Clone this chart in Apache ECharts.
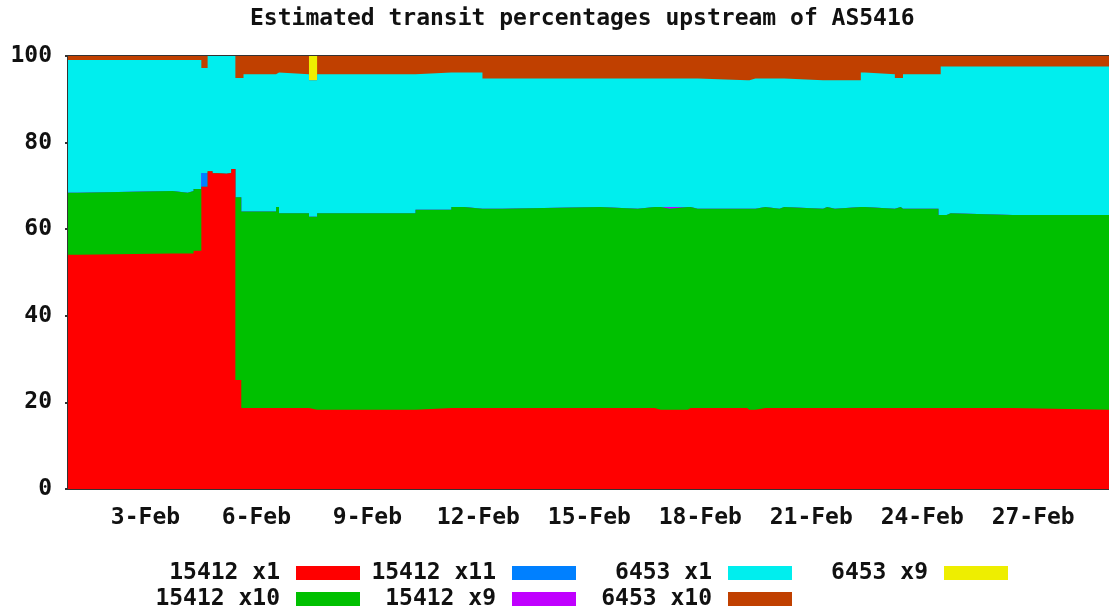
<!DOCTYPE html>
<html>
<head>
<meta charset="utf-8">
<title>Estimated transit percentages upstream of AS5416</title>
<script src="https://cdn.jsdelivr.net/npm/echarts@6/dist/echarts.min.js"></script>
<style>
    html, body { margin: 0; padding: 0; background: #fff; }
    #chart { width: 1109px; height: 613px; }
</style>
</head>
<body>
<div id="chart"></div>
<script>
// x = day of February (fractional), one column per sample change
var days = [0.905, 1.17, 3.73, 4.14, 4.30, 4.51, 4.68, 4.81, 4.95, 5.19, 5.32, 5.43, 5.59, 5.65, 6.53, 6.61,
    7.42, 7.64, 10.30, 11.27, 11.62, 12.11, 12.65, 15.29, 16.31, 16.77, 16.93, 17.17, 17.66, 17.74, 17.93,
    19.27, 19.33, 19.49, 19.76, 20.14, 20.27, 21.32, 21.43, 21.64, 22.34, 22.45, 23.26, 23.31, 23.42, 23.48,
    24.44, 24.50, 24.66, 24.77, 26.44, 29.05];
var dayLabels = [3, 6, 9, 12, 15, 18, 21, 24, 27];

// percentages per series (stack order bottom -> top)
var as15412x1 = [54.1, 54.4, 54.4, 54.4, 55.0, 69.8, 73.4, 72.9, 72.8, 73.0, 73.9, 25.2, 18.7, 18.7, 18.7, 18.7,
    18.3, 18.3, 18.7, 18.7, 18.7, 18.7, 18.7, 18.7, 18.7, 18.3, 18.3, 18.3, 18.7, 18.7, 18.7,
    18.3, 18.3, 18.7, 18.7, 18.7, 18.7, 18.7, 18.7, 18.7, 18.7, 18.7, 18.7, 18.7, 18.7, 18.7,
    18.7, 18.7, 18.7, 18.7, 18.3, 18.3];
var as15412x10 = [14.3, 14.4, 14.0, 14.4, 14.3, 0, 0, 0, 0, 0, 0, 42.2, 45.4, 45.4, 46.4, 45.0,
    44.6, 45.4, 45.8, 46.4, 46.0, 46.0, 46.4, 46.0, 46.4, 46.8, 46.4, 46.8, 46.4, 46.0, 46.0,
    46.4, 46.4, 46.4, 46.0, 46.4, 46.0, 46.4, 46.0, 46.4, 46.4, 46.0, 46.0, 46.4, 46.0, 46.0,
    44.6, 44.6, 45.0, 44.6, 45.0, 45.0];
var as15412x11 = [0, 0, 0, 0, 0, 3.2, 0, 0, 0, 0, 0, 0, 0, 0, 0, 0,
    0, 0, 0, 0, 0, 0, 0, 0, 0, 0, 0, 0, 0, 0, 0,
    0, 0, 0, 0, 0, 0, 0, 0, 0, 0, 0, 0, 0, 0, 0,
    0, 0, 0, 0, 0, 0];
var as15412x9 = [0, 0, 0, 0, 0, 0, 0, 0, 0, 0, 0, 0, 0, 0, 0, 0,
    0, 0, 0, 0, 0, 0, 0, 0, 0, 0, 0.4, 0, 0, 0, 0,
    0, 0, 0, 0, 0, 0, 0, 0, 0, 0, 0, 0, 0, 0, 0,
    0, 0, 0, 0, 0, 0];
var as6453x1 = [30.7, 30.3, 30.7, 30.3, 29.8, 24.2, 26.6, 27.1, 27.2, 27.0, 26.1, 27.5, 30.8, 31.7, 31.1, 32.1,
    31.5, 32.1, 31.7, 31.1, 31.5, 30.1, 29.7, 30.1, 29.7, 29.7, 29.7, 29.7, 29.7, 30.1, 29.7,
    29.7, 30.1, 29.7, 30.1, 29.7, 29.7, 29.3, 29.7, 29.3, 31.1, 31.1, 30.2, 29.8, 30.2, 31.1,
    32.5, 34.3, 33.9, 34.3, 34.3, 34.3];
var as6453x10 = [0.9, 0.9, 0.9, 0.9, 0.9, 2.8, 0, 0, 0, 0, 0, 5.1, 5.1, 4.2, 3.8, 4.2,
    0, 4.2, 3.8, 3.8, 3.8, 5.2, 5.2, 5.2, 5.2, 5.2, 5.2, 5.2, 5.2, 5.2, 5.6,
    5.6, 5.2, 5.2, 5.2, 5.2, 5.6, 5.6, 5.6, 5.6, 3.8, 4.2, 5.1, 5.1, 5.1, 4.2,
    4.2, 2.4, 2.4, 2.4, 2.4, 2.4];
var as6453x9 = [0, 0, 0, 0, 0, 0, 0, 0, 0, 0, 0, 0, 0, 0, 0, 0,
    5.6, 0, 0, 0, 0, 0, 0, 0, 0, 0, 0, 0, 0, 0, 0,
    0, 0, 0, 0, 0, 0, 0, 0, 0, 0, 0, 0, 0, 0, 0,
    0, 0, 0, 0, 0, 0];

var FONT = 'DejaVu Sans Mono';

// stack order bottom -> top
var layers = [
    {name: '15412 x1', values: as15412x1, color: '#ff0000'},
    {name: '15412 x10', values: as15412x10, color: '#00c000'},
    {name: '15412 x11', values: as15412x11, color: '#0080ff'},
    {name: '15412 x9', values: as15412x9, color: '#c000ff'},
    {name: '6453 x1', values: as6453x1, color: '#00eeee'},
    {name: '6453 x10', values: as6453x10, color: '#c04000'},
    {name: '6453 x9', values: as6453x9, color: '#eeee00'}
];

// legend slots: gnuplot style, text then colour box; right = distance of box right edge from canvas right
var legendSlots = {
    '15412 x1': {right: 749, top: 560},
    '15412 x11': {right: 533, top: 560},
    '6453 x1': {right: 317, top: 560},
    '6453 x9': {right: 101, top: 560},
    '15412 x10': {right: 749, top: 586},
    '15412 x9': {right: 533, top: 586},
    '6453 x10': {right: 317, top: 586}
};

// running totals, each layer drawn from 0 up to its cumulative top
var running = days.map(function () { return 0; });
var series = [];
var legends = [];
layers.forEach(function (l, k) {
    var d = [];
    for (var i = 0; i < days.length; i++) {
        running[i] += l.values[i];
        d.push([days[i], Math.min(100, +running[i].toFixed(2))]);
    }
    series.push({
        name: l.name,
        type: 'line',
        step: 'end',
        symbol: 'none',
        z: 10 - k, // lower layers on top
        color: l.color,
        lineStyle: {width: 0},
        areaStyle: {color: l.color, opacity: 1, origin: 'start'},
        data: d
    });
    var s = legendSlots[l.name];
    legends.push({
        data: [l.name],
        right: s.right,
        top: s.top,
        padding: 0,
        align: 'right',
        icon: 'rect',
        itemWidth: 64,
        itemHeight: 14,
        selectedMode: false,
        textStyle: {fontFamily: FONT, fontWeight: 'bold', fontSize: 23, color: '#111', lineHeight: 22, padding: [4, 11, 0, 0]}
    });
});

var myChart = echarts.init(document.getElementById('chart'));
myChart.setOption({
    backgroundColor: '#fff',
    animation: false,
    title: {
        text: 'Estimated transit percentages upstream of AS5416',
        left: 250,
        top: 8,
        padding: 0,
        textStyle: {fontFamily: FONT, fontWeight: 'bold', fontSize: 23, color: '#111'}
    },
    legend: legends,
    grid: {
        left: 68,
        top: 56,
        right: -4,
        bottom: 124,
        show: true,
        borderColor: '#333',
        borderWidth: 2,
        backgroundColor: 'transparent'
    },
    xAxis: {
        type: 'value',
        min: 0.905,
        max: 29.05,
        axisLine: {show: false},
        axisTick: {show: false},
        splitLine: {show: false},
        axisLabel: {
            customValues: dayLabels,
            margin: 18,
            fontFamily: FONT,
            fontWeight: 'bold',
            fontSize: 23,
            color: '#111',
            formatter: function (v) { return Math.round(v) + '-Feb'; }
        }
    },
    yAxis: {
        type: 'value',
        min: 0,
        max: 100,
        interval: 20,
        axisLine: {show: false},
        axisTick: {show: true, length: 3, lineStyle: {color: '#333', width: 2}},
        splitLine: {show: false},
        axisLabel: {
            margin: 16,
            fontFamily: FONT,
            fontWeight: 'bold',
            fontSize: 23,
            color: '#111'
        }
    },
    series: series
});
</script>
</body>
</html>
